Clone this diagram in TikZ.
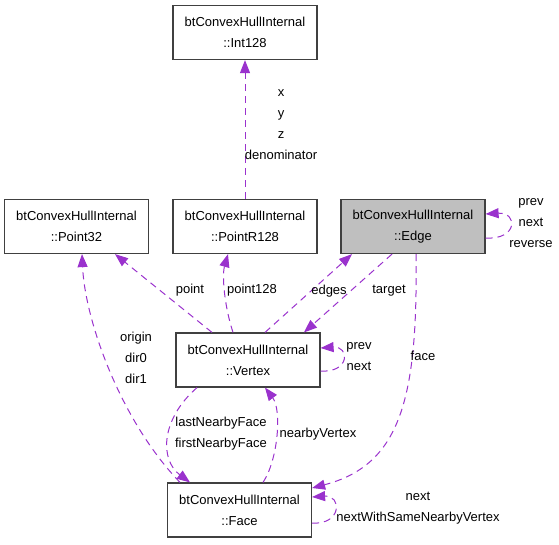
\documentclass[tikz,border=0pt]{standalone}
\usepackage{fontspec}
\setmainfont{Liberation Sans}
\usetikzlibrary{arrows.meta}
\definecolor{relcol}{RGB}{154,50,205}
\definecolor{boxline}{RGB}{64,64,64}
\definecolor{boxfill}{RGB}{191,191,191}
\begin{document}
\begin{tikzpicture}[x=1pt,y=-1pt,
 cls/.style={draw=boxline, line width=1.2pt, rectangle, minimum width=144pt, minimum height=54pt, inner sep=0pt, align=center, font=\fontsize{13}{21}\selectfont, fill=white},
 rel/.style={draw=relcol, line width=1pt, dash pattern=on 7pt off 5pt, -{Triangle[length=13pt,width=10pt,fill=relcol]}},
 lbl/.style={align=center, font=\fontsize{13}{21}\selectfont, inner sep=0pt}]
\useasboundingbox (0,0) rectangle (559,544);

% class boxes
\node[cls] (int128) at (245,32.5) {btConvexHullInternal\\::Int128};
\node[cls] (point32) at (76.5,226.5) {btConvexHullInternal\\::Point32};
\node[cls] (pr128) at (245,226.5) {btConvexHullInternal\\::PointR128};
\node[cls, fill=boxfill] (edge) at (413,226.5) {btConvexHullInternal\\::Edge};
\node[cls] (vertex) at (248,360) {btConvexHullInternal\\::Vertex};
\node[cls] (face) at (239.5,510) {btConvexHullInternal\\::Face};

% PointR128 -> Int128
\draw[rel] (pr128.north) -- (int128.south);
\node[lbl] (lxyz) at (281,125) {x\\y\\z\\denominator};

% Vertex -> Point32
\draw[rel] ([xshift=-36pt]vertex.north) -- ([xshift=38.5pt]point32.south);
\node[lbl] (lpoint) at (190,290) {point};

% Vertex -> PointR128
\draw[rel] ([xshift=-15pt]vertex.north) .. controls (224,305) and (222,275) .. ([xshift=-17pt]pr128.south);
\node[lbl] (lpoint128) at (252,290) {point128};

% Vertex -> Edge
\draw[rel] ([xshift=17pt]vertex.north) -- ([xshift=-61pt]edge.south);
\node[lbl] (ledges) at (329,291) {edges};

% Edge -> Vertex
\draw[rel] ([xshift=-21pt]edge.south) -- ([xshift=56pt]vertex.north);
\node[lbl] (ltarget) at (389,291) {target};

% Edge self loop
\draw[rel] ([yshift=-11.5pt]edge.east) .. controls (518,240) and (518,212) .. ([yshift=12.5pt]edge.east);
\node[lbl] (ledgeloop) at (531,223.5) {prev\\next\\reverse};

% Vertex self loop
\draw[rel] ([yshift=-11pt]vertex.east) .. controls (350,373) and (350,346) .. ([yshift=12pt]vertex.east);
\node[lbl] (lvertexloop) at (359,357) {prev\\next};

% Face -> Point32
\draw[rel] ([xshift=-59.5pt]face.north) .. controls (120,420) and (85,320) .. ([xshift=5.5pt]point32.south);
\node[lbl] (lorigin) at (136,357.5) {origin\\dir0\\dir1};

% Vertex -> Face (lastNearbyFace, firstNearbyFace)
\draw[rel] ([xshift=-51pt]vertex.south) .. controls (160,420) and (160,460) .. ([xshift=-49.5pt]face.north);
\node[lbl] (lnearbyface) at (221,433.5) {lastNearbyFace\\firstNearbyFace};

% Face -> Vertex (nearbyVertex)
\draw[rel] ([xshift=23.5pt]face.north) .. controls (278,460) and (282,410) .. ([xshift=17pt]vertex.south);
\node[lbl] (lnearbyvertex) at (318,434) {nearbyVertex};

% Edge -> Face (face)
\draw[rel] ([xshift=3pt]edge.south) .. controls (418,400) and (400,465) .. ([yshift=22pt]face.east);
\node[lbl] (lface) at (423,356) {face};

% Face self loop
\draw[rel] ([yshift=-13pt]face.east) .. controls (342,525) and (342,495) .. ([yshift=13pt]face.east);
\node[lbl] (lfaceloop) at (418,508) {next\\nextWithSameNearbyVertex};
\end{tikzpicture}
\end{document}
